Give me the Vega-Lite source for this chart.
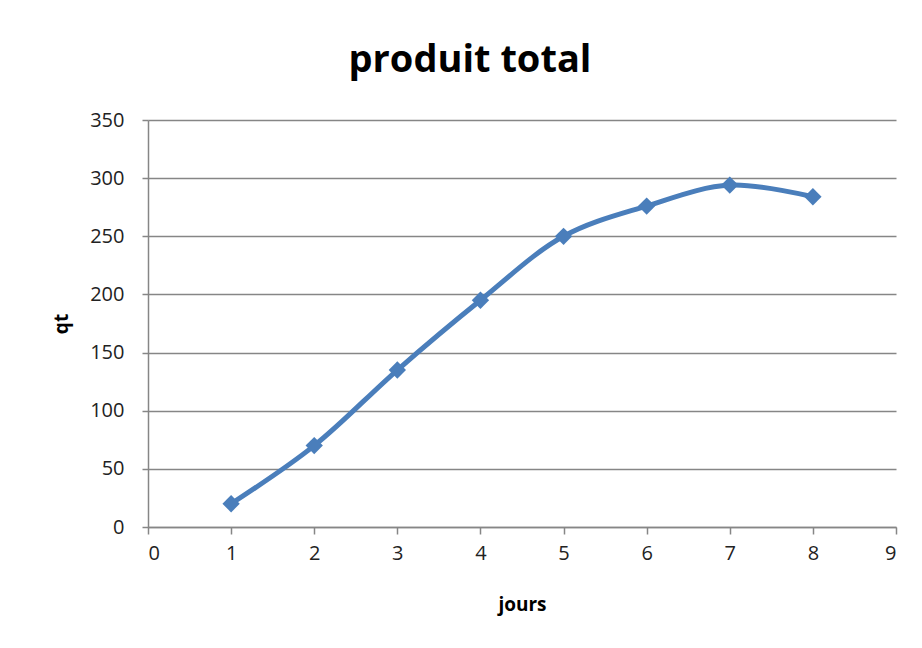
{
  "$schema": "https://vega.github.io/schema/vega-lite/v6.json",
  "autosize": "none",
  "width": 748,
  "height": 407,
  "padding": {"left": 148, "top": 120, "right": 26, "bottom": 121},
  "background": "white",
  "title": {
    "text": "produit total",
    "font": "Open Sans",
    "fontSize": 38,
    "fontWeight": "bold",
    "color": "#000000",
    "anchor": "middle",
    "dx": -52,
    "offset": 30
  },
  "data": {
    "values": [
      {"jours": 1, "qt": 20},
      {"jours": 2, "qt": 70},
      {"jours": 3, "qt": 135},
      {"jours": 4, "qt": 195},
      {"jours": 5, "qt": 250},
      {"jours": 6, "qt": 276},
      {"jours": 7, "qt": 294},
      {"jours": 8, "qt": 284}
    ]
  },
  "encoding": {
    "x": {
      "field": "jours",
      "type": "quantitative",
      "scale": {"domain": [0, 9], "nice": false, "zero": false},
      "axis": {
        "title": "jours",
        "values": [0, 1, 2, 3, 4, 5, 6, 7, 8, 9],
        "grid": false,
        "domainColor": "#868686",
        "domainWidth": 1.5,
        "tickColor": "#868686",
        "tickWidth": 1.5,
        "tickSize": 7,
        "labelFont": "Open Sans",
        "labelFontSize": 20,
        "labelColor": "#222222",
        "labelPadding": 9,
        "titleFont": "Open Sans",
        "titleFontSize": 19,
        "titleFontWeight": "bold",
        "titleColor": "#000000",
        "titlePadding": 32
      }
    },
    "y": {
      "field": "qt",
      "type": "quantitative",
      "scale": {"domain": [0, 350], "nice": false},
      "axis": {
        "title": "qt",
        "values": [0, 50, 100, 150, 200, 250, 300, 350],
        "grid": true,
        "gridColor": "#868686",
        "gridWidth": 1.5,
        "domainColor": "#868686",
        "domainWidth": 1.5,
        "tickColor": "#868686",
        "tickWidth": 1.5,
        "tickSize": 6,
        "labelFont": "Open Sans",
        "labelFontSize": 20,
        "labelColor": "#222222",
        "labelPadding": 18,
        "titleFont": "Open Sans",
        "titleFontSize": 19,
        "titleFontWeight": "bold",
        "titleColor": "#000000",
        "titlePadding": 18
      }
    }
  },
  "layer": [
    {
      "mark": {"type": "line", "interpolate": "catmull-rom", "color": "#4a7ebb", "strokeWidth": 5}
    },
    {
      "mark": {"type": "point", "shape": "diamond", "filled": true, "size": 300, "color": "#4a7ebb", "opacity": 1}
    }
  ],
  "config": {"view": {"stroke": null}}
}
